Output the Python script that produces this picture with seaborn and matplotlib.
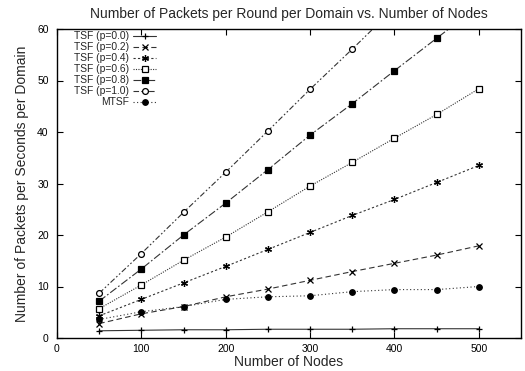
import matplotlib
matplotlib.use("Agg")
import matplotlib.pyplot as plt
import seaborn as sns

# Number of nodes in the simulated network
nodes = [50, 100, 150, 200, 250, 300, 350, 400, 450, 500]

# Packets per second per domain for each scheme
tsf_p00 = [1.4, 1.5, 1.6, 1.6, 1.7, 1.7, 1.7, 1.8, 1.8, 1.8]
tsf_p02 = [2.8, 4.7, 6.1, 8.0, 9.5, 11.2, 12.9, 14.5, 16.1, 17.9]
tsf_p04 = [4.3, 7.5, 10.7, 13.9, 17.2, 20.5, 23.8, 26.9, 30.2, 33.5]
tsf_p06 = [5.7, 10.3, 15.1, 19.6, 24.5, 29.5, 34.1, 38.8, 43.4, 48.4]
tsf_p08 = [7.15, 13.4, 20.0, 26.2, 32.7, 39.4, 45.5, 51.9, 58.2, 64.5]
tsf_p10 = [8.7, 16.4, 24.4, 32.2, 40.2, 48.3, 56.1, 64.1, 72.2, 80.3]
mtsf = [3.6, 5.1, 6.1, 7.5, 8.0, 8.2, 9.0, 9.4, 9.4, 10.0]

labels = ["TSF (p=0.0)", "TSF (p=0.2)", "TSF (p=0.4)", "TSF (p=0.6)",
          "TSF (p=0.8)", "TSF (p=1.0)", "MTSF"]

sns.set_theme(style="ticks")
plt.rcParams["font.family"] = ["Liberation Sans", "DejaVu Sans"]

fig = plt.figure(figsize=(5.25, 3.71), dpi=100)
ax = fig.add_axes([57 / 525, 1 - 338 / 371, (521 - 57) / 525, (338 - 29) / 371])

series = [tsf_p00, tsf_p02, tsf_p04, tsf_p06, tsf_p08, tsf_p10, mtsf]
styles = [
    dict(linestyle="-", marker="+", mfc="black", ms=5),
    dict(linestyle=(0, (5, 3)), marker="x", mfc="black", ms=4),
    dict(linestyle=(0, (2, 2)), marker=(6, 2, 0), mfc="black", ms=5),
    dict(linestyle=(0, (1, 1.2)), marker="s", mfc="white", ms=4),
    dict(linestyle=(0, (7, 2, 1.5, 2)), marker="s", mfc="black", ms=4.2),
    dict(linestyle=(0, (5, 2, 1.5, 2, 1.5, 2)), marker="o", mfc="white", ms=4.2),
    dict(linestyle=(0, (1, 2.2)), marker="o", mfc="black", ms=4),
]

for vals, lab, st in zip(series, labels, styles):
    sns.lineplot(x=nodes, y=vals, ax=ax, color="#333333", linewidth=0.8,
                 linestyle=st["linestyle"], marker=st["marker"],
                 markerfacecolor=st["mfc"], markeredgecolor="black",
                 markeredgewidth=0.9, markersize=st["ms"], label=lab,
                 estimator=None, sort=False)

ax.set_xlim(0, 550)
ax.set_ylim(0, 60)
ax.set_xticks([0, 100, 200, 300, 400, 500])
ax.set_yticks([0, 10, 20, 30, 40, 50, 60])

for side in ["left", "right", "top", "bottom"]:
    ax.spines[side].set_visible(True)
    ax.spines[side].set_linewidth(1.0)
    ax.spines[side].set_color("black")

ax.tick_params(axis="both", direction="in", length=4, width=0.8,
               labelsize=7.5, colors="black", top=True, right=True,
               labeltop=False, labelright=False)
ax.tick_params(axis="x", pad=4)
ax.tick_params(axis="y", pad=6)

ax.set_title("Number of Packets per Round per Domain vs. Number of Nodes",
             fontsize=10, pad=8)
ax.set_xlabel("Number of Nodes", fontsize=10, labelpad=1)
ax.set_ylabel("Number of Packets per Seconds per Domain", fontsize=10, labelpad=6)

# labels sit to the left of the line samples, right-aligned
ax.legend(loc="upper left", bbox_to_anchor=(0.036, 0.993), frameon=False,
          markerfirst=False, fontsize=7.4, handlelength=2.2,
          handletextpad=0.45, labelspacing=0.1, borderaxespad=0,
          borderpad=0)

fig.savefig("out.png", dpi=100)
